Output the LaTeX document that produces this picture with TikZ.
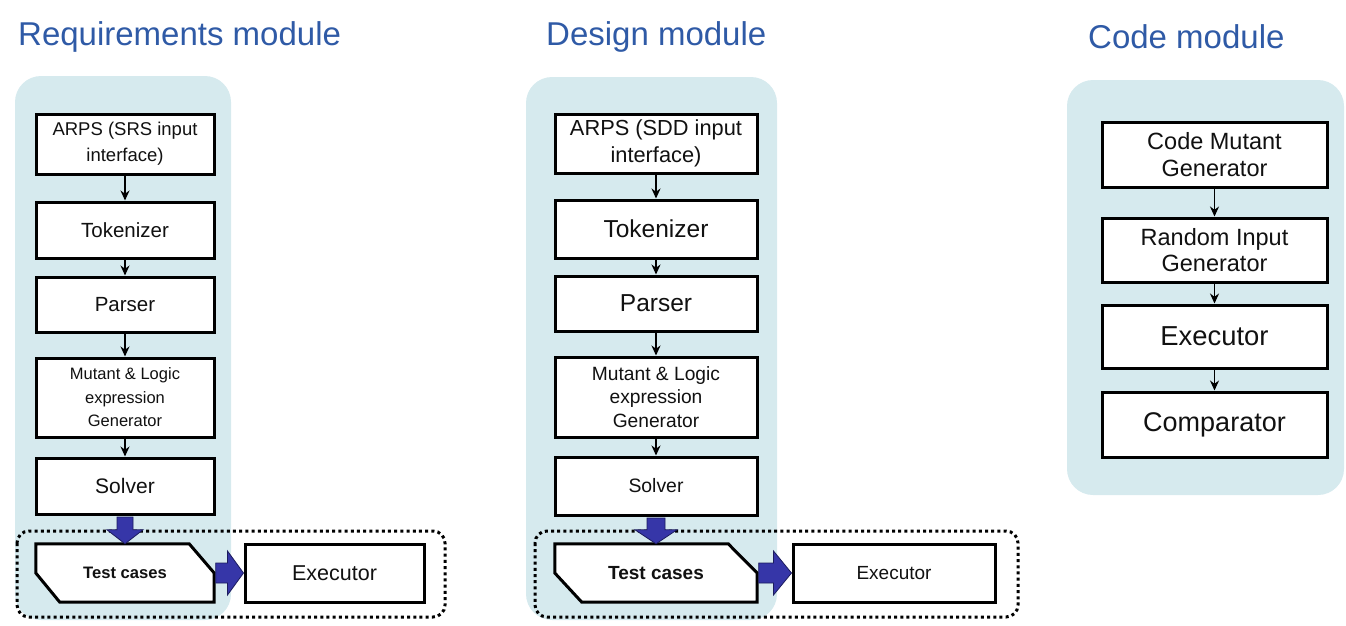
\documentclass[tikz,border=0pt]{standalone}
\usepackage{fontspec}
\setmainfont{Liberation Sans}
\usetikzlibrary{calc,arrows.meta}
\definecolor{titleblue}{HTML}{2F5AA6}
\definecolor{panelcyan}{HTML}{D6EAEE}
\definecolor{fatblue}{HTML}{3636A8}
\definecolor{fatedge}{HTML}{1C1C5E}
\definecolor{inktext}{HTML}{111111}
\tikzset{
  title/.style={anchor=west,inner sep=0pt,text=titleblue,font=\fontsize{33}{37}\selectfont},
  panel/.style={fill=panelcyan,draw=none,rounded corners=26pt},
  stepbox/.style={draw=black,line width=3pt,fill=white,rectangle,align=center,
    inner sep=0pt,text=inktext},
  hidden/.style={rectangle,inner sep=0pt,align=center,text=inktext},
  flow/.style={-{Stealth[length=10pt,width=9pt]},line width=1.4pt,black},
  fat/.style={fill=fatblue,draw=fatedge,line width=0.8pt,line join=miter},
  group/.style={draw=black,line width=3pt,dash pattern=on 3pt off 3.2pt,rounded corners=12pt},
  fs/.style 2 args={font=\fontsize{#1}{#2}\selectfont}
}
\begin{document}
\begin{tikzpicture}[x=1pt,y=-1pt]
\useasboundingbox (0,0) rectangle (1346,625);

% ---------- titles ----------
\node[title] (t1) at (18,37) {Requirements module};
\node[title] (t2) at (546,37) {Design module};
\node[title] (t3) at (1088,37) {Code module};

% ---------- background panels ----------
\fill[panel] (15,76) rectangle (231,620);
\fill[panel] (526,77) rectangle (777,620);
\fill[panel] (1067,80) rectangle (1344,495);

% ---------- dotted groups ----------
\draw[group] (17,531) rectangle (445,617);
\draw[group] (535,531) rectangle (1018,617);

% ---------- requirements module ----------
\node[stepbox,minimum width=178,minimum height=60,fs={18.5}{26}] (ra) at (125,144) {ARPS (SRS input\\interface)};
\node[stepbox,minimum width=178,minimum height=56,fs={20.5}{24}] (rt) at (125,230) {Tokenizer};
\node[stepbox,minimum width=178,minimum height=55,fs={20.5}{24}] (rp) at (125,304.5) {Parser};
\node[stepbox,minimum width=178,minimum height=79,fs={16.5}{23.5}] (rm) at (125,397.5) {Mutant \& Logic\\expression\\Generator};
\node[stepbox,minimum width=178,minimum height=56,fs={21}{24}] (rs) at (125,486) {Solver};
\node[hidden,minimum width=178,minimum height=58,fs={16.6}{20}] (rc) at (125,573) {\bfseries Test cases};
\draw[line width=3pt,fill=white,line join=miter]
  (rc.north west) -- ($(rc.north east)+(-25,0)$) -- (rc.east) -- (rc.south east)
  -- ($(rc.south west)+(24,0)$) -- (rc.west) -- cycle;
\node[hidden,fs={16.6}{20}] at (rc.center) {\bfseries Test cases};
\node[stepbox,minimum width=179,minimum height=58,fs={21.5}{24}] (re) at (334.5,573) {Executor};

\draw[flow] (ra.south) -- (rt.north);
\draw[flow] (rt.south) -- (rp.north);
\draw[flow] (rp.south) -- (rm.north);
\draw[flow] (rm.south) -- (rs.north);

% fat arrow Solver -> Test cases
\draw[fat] ($(rs.south)+(-8,1.5)$) -- ($(rc.north)+(-8,-14)$) -- ($(rc.north)+(-18,-14)$)
  -- (rc.north) -- ($(rc.north)+(18,-14)$) -- ($(rc.north)+(8,-14)$) -- ($(rs.south)+(8,1.5)$) -- cycle;
% fat arrow Test cases -> Executor
\draw[fat] ($(rc.east)+(1.5,-10)$) -- ($(re.west)+(-16,-10)$) -- ($(re.west)+(-16,-22)$)
  -- (re.west) -- ($(re.west)+(-16,22)$) -- ($(re.west)+(-16,10)$) -- ($(rc.east)+(1.5,10)$) -- cycle;

% ---------- design module ----------
\node[stepbox,minimum width=202,minimum height=59,fs={21.8}{27}] (da) at (656,143.5) {ARPS (SDD input\\interface)};
\node[stepbox,minimum width=202,minimum height=58,fs={24.5}{28}] (dt) at (656,229) {Tokenizer};
\node[stepbox,minimum width=202,minimum height=55,fs={24.5}{28}] (dp) at (656,303.5) {Parser};
\node[stepbox,minimum width=202,minimum height=80,fs={19.2}{23.5}] (dm) at (656,397) {Mutant \& Logic\\expression\\Generator};
\node[stepbox,minimum width=202,minimum height=58,fs={19.4}{23}] (ds) at (656,486) {Solver};
\node[hidden,minimum width=202,minimum height=58,fs={19}{22}] (dc) at (656,573) {\bfseries Test cases};
\draw[line width=3pt,fill=white,line join=miter]
  (dc.north west) -- ($(dc.north east)+(-29,0)$) -- (dc.east) -- (dc.south east)
  -- ($(dc.south west)+(27,0)$) -- (dc.west) -- cycle;
\node[hidden,fs={19}{22}] at (dc.center) {\bfseries Test cases};
\node[stepbox,minimum width=202,minimum height=58,fs={19}{22}] (de) at (894,573) {Executor};

\draw[flow] (da.south) -- (dt.north);
\draw[flow] (dt.south) -- (dp.north);
\draw[flow] (dp.south) -- (dm.north);
\draw[flow] (dm.south) -- (ds.north);

\draw[fat] ($(ds.south)+(-9,1.5)$) -- ($(dc.north)+(-9,-14)$) -- ($(dc.north)+(-21,-14)$)
  -- (dc.north) -- ($(dc.north)+(21,-14)$) -- ($(dc.north)+(9,-14)$) -- ($(ds.south)+(9,1.5)$) -- cycle;
\draw[fat] ($(dc.east)+(1.5,-10)$) -- ($(de.west)+(-18,-10)$) -- ($(de.west)+(-18,-22)$)
  -- (de.west) -- ($(de.west)+(-18,22)$) -- ($(de.west)+(-18,10)$) -- ($(dc.east)+(1.5,10)$) -- cycle;

% ---------- code module ----------
\node[stepbox,minimum width=225,minimum height=65,fs={23.5}{26.5}] (cm) at (1214.5,154.5) {Code Mutant\\Generator};
\node[stepbox,minimum width=225,minimum height=64,fs={23.5}{26.5}] (cr) at (1214.5,250) {Random Input\\Generator};
\node[stepbox,minimum width=225,minimum height=63,fs={27.4}{30}] (ce) at (1214.5,336.5) {Executor};
\node[stepbox,minimum width=225,minimum height=65,fs={27}{30}] (cc) at (1214.5,424.5) {Comparator};

\draw[flow] (cm.south) -- (cr.north);
\draw[flow] (cr.south) -- (ce.north);
\draw[flow] (ce.south) -- (cc.north);
\end{tikzpicture}
\end{document}
